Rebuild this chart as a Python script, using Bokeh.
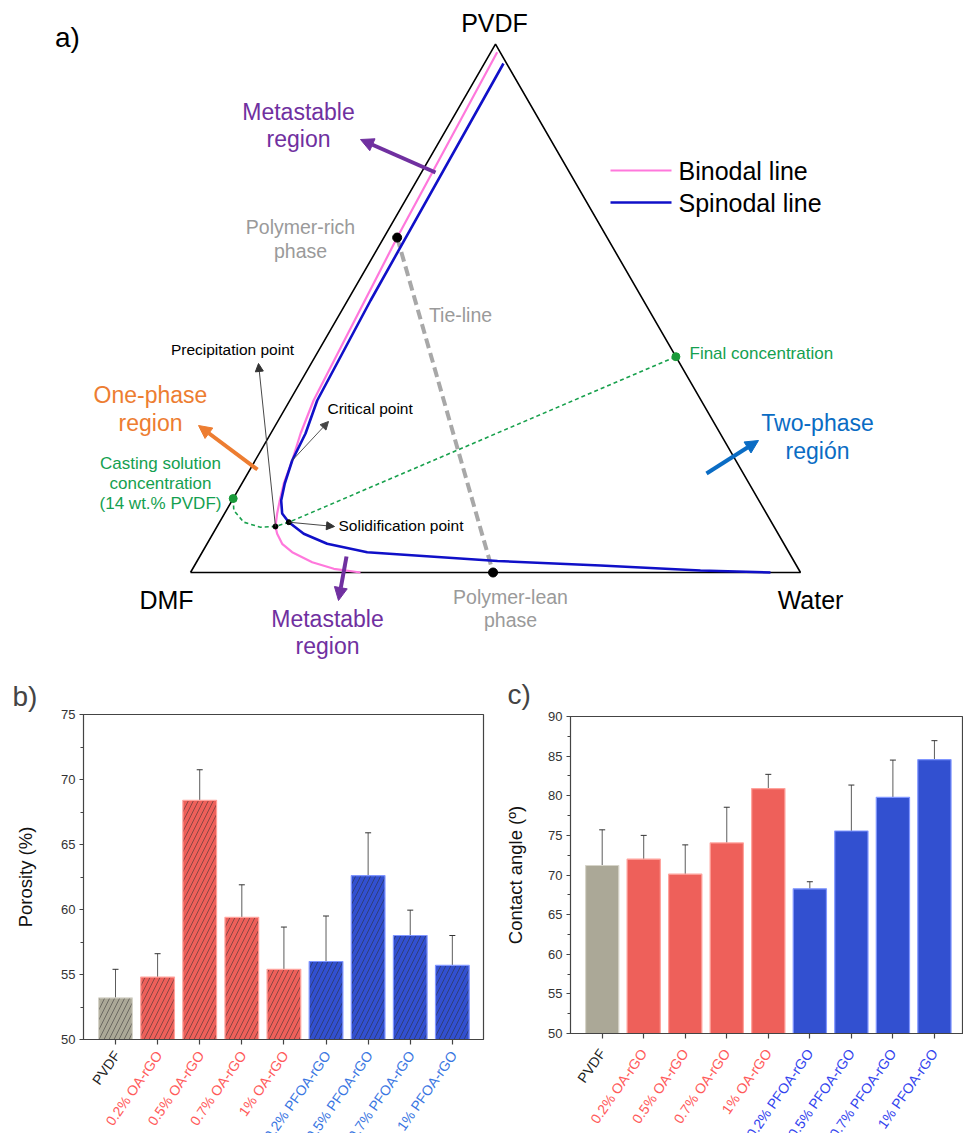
import numpy as np
from bokeh.plotting import figure
from bokeh.models import (ColumnDataSource, Range1d, Arrow, NormalHead, Whisker,
                          TeeHead, SingleIntervalTicker, FixedTicker)
from bokeh.layouts import column, row
from bokeh.embed import file_html
from bokeh.resources import INLINE
from bokeh.core.properties import value

FONT = "Liberation Sans"

# ---------------- Panel a: ternary compositions (water fraction, PVDF fraction) ----------------
binodal_water = [0.0103, 0.0218, 0.0389, 0.0489, 0.0607, 0.0687, 0.0782, 0.0862, 0.0957,
                 0.1054, 0.1231, 0.1475, 0.1898, 0.2315, 0.2787]
binodal_pvdf = [0.9849, 0.634, 0.3256, 0.2631, 0.2120, 0.1685, 0.1363, 0.1117, 0.0871,
                0.0733, 0.0543, 0.0384, 0.0195, 0.0070, 0.0]
spinodal_water = [0.0313, 0.0377, 0.0449, 0.0570, 0.0607, 0.0703, 0.0805, 0.0944, 0.1136,
                  0.1490, 0.1969, 0.2705, 0.3272, 0.4924, 0.6656, 0.8341, 0.9508]
spinodal_pvdf = [0.9635, 0.5149, 0.3256, 0.2631, 0.2120, 0.1685, 0.1363, 0.1117, 0.0952,
                 0.0733, 0.0543, 0.0384, 0.0341, 0.0218, 0.0133, 0.0038, 0.0]
path_water = [0.0, 0.0123, 0.0398, 0.0720, 0.0957, 0.1136]
path_pvdf = [0.14, 0.1174, 0.0952, 0.0857, 0.0871, 0.0952]
casting_point = [0.0, 0.14]
precipitation_point = [0.0957, 0.0871]
solidification_point = [0.1136, 0.0952]
critical_point = [0.0607, 0.2120]
final_point = [0.5915, 0.4085]
tie_rich = [0.0218, 0.634]
tie_lean = [0.496, 0.0]

# ---------------- Panels b, c ----------------
categories = ["PVDF", "0.2% OA-rGO", "0.5% OA-rGO", "0.7% OA-rGO", "1% OA-rGO",
              "0.2% PFOA-rGO", "0.5% PFOA-rGO", "0.7% PFOA-rGO", "1% PFOA-rGO"]
groups = ["PVDF", "OA", "OA", "OA", "OA", "PFOA", "PFOA", "PFOA", "PFOA"]
porosity = [53.2, 54.8, 68.4, 59.4, 55.4, 56.0, 62.6, 58.0, 55.7]
porosity_err = [2.2, 1.8, 2.35, 2.5, 3.25, 3.5, 3.3, 1.95, 2.3]
contact_angle = [71.2, 72.0, 70.1, 74.05, 80.9, 68.25, 75.55, 79.8, 84.55]
contact_angle_err = [4.5, 3.0, 3.7, 4.5, 1.8, 0.9, 5.8, 4.7, 2.4]

fill_colors = {"PVDF": "#aba897", "OA": "#ee605a", "PFOA": "#3250d0"}
edge_colors = {"PVDF": "#d6d4c9", "OA": "#ffa29c", "PFOA": "#8096ff"}
label_colors_b = {"PVDF": "#222222", "OA": "#ff5a5a", "PFOA": "#3a76e2"}
label_colors_c = {"PVDF": "#222222", "OA": "#ff5a5a", "PFOA": "#3344ee"}

# ---------------- Panel a figure ----------------
X0, Y0, SIDE = 190.0, 572.0, 610.0


def tern(w, a):
    w = np.atleast_1d(np.asarray(w, float))
    a = np.atleast_1d(np.asarray(a, float))
    return X0 + SIDE * (w + a / 2.0), Y0 - SIDE * np.sqrt(3) / 2.0 * a


pa = figure(width=963, height=660, x_range=Range1d(0, 963), y_range=Range1d(660, 0),
            x_axis_type=None, y_axis_type=None, toolbar_location=None,
            output_backend="svg", min_border=0, outline_line_color=None)
pa.xgrid.visible = False
pa.ygrid.visible = False


def txt(p, x, y, s, size, color, align="center"):
    p.text(x=[x], y=[y], text=[s], text_font=value(FONT), text_font_size=f"{size}px",
           text_color=color, text_align=align, text_baseline="middle")


tx, ty = tern([0, 1, 0, 0], [0, 0, 1, 0])
pa.line(tx, ty, line_color="black", line_width=1.6)

rx, ry = tern([tie_rich[0], tie_lean[0]], [tie_rich[1], tie_lean[1]])
pa.line(rx, ry, line_color="#a8a8a8", line_width=4, line_dash="10 5")

gx, gy = tern(path_water + [final_point[0]], path_pvdf + [final_point[1]])
pa.line(gx, gy, line_color="#17a04c", line_width=1.6, line_dash="4 3")

bx, by = tern(binodal_water, binodal_pvdf)
pa.line(bx, by, line_color="#ff78dc", line_width=2.2)
sx, sy = tern(spinodal_water, spinodal_pvdf)
pa.line(sx, sy, line_color="#1010c8", line_width=2.6)

px_, py_ = tern([tie_rich[0], tie_lean[0]], [tie_rich[1], tie_lean[1]])
pa.scatter(px_, py_, size=9, color="black")
px_, py_ = tern([precipitation_point[0], solidification_point[0]],
                [precipitation_point[1], solidification_point[1]])
pa.scatter(px_, py_, size=5, color="black")
px_, py_ = tern([casting_point[0], final_point[0]], [casting_point[1], final_point[1]])
pa.scatter(px_, py_, size=8, color="#1a9a3a")


def arrow(p, xs, ys, xe, ye, color, width, head):
    p.add_layout(Arrow(x_start=xs, y_start=ys, x_end=xe, y_end=ye, line_color=color,
                       line_width=width,
                       end=NormalHead(size=head, fill_color=color, line_color=color)))


ppx, ppy = tern(*precipitation_point)
arrow(pa, ppx[0], ppy[0], 258, 363, "#333333", 0.9, 8)
cpx, cpy = tern(*critical_point)
arrow(pa, cpx[0], cpy[0], 328, 421, "#444444", 0.9, 8)
spx, spy = tern(*solidification_point)
arrow(pa, spx[0], spy[0], 334, 526, "#333333", 0.9, 8)
arrow(pa, 435, 172, 360, 139, "#7030a0", 4, 13)
arrow(pa, 346, 556, 338, 600, "#7030a0", 4, 13)
arrow(pa, 257, 469, 198, 425, "#ed7d31", 4, 13)
arrow(pa, 706, 473, 758, 440, "#0a6cc4", 4, 13)

txt(pa, 67, 37, "a)", 28, "black")
txt(pa, 494, 22, "PVDF", 25, "black")
txt(pa, 166, 599, "DMF", 25, "black")
txt(pa, 810, 599, "Water", 25, "black")
txt(pa, 298, 111, "Metastable", 23, "#7030a0")
txt(pa, 298, 138, "region", 23, "#7030a0")
txt(pa, 327, 618, "Metastable", 23, "#7030a0")
txt(pa, 327, 645, "region", 23, "#7030a0")
txt(pa, 300, 226, "Polymer-rich", 19.5, "#9a9a9a")
txt(pa, 300, 250, "phase", 19.5, "#9a9a9a")
txt(pa, 460, 314, "Tie-line", 19.5, "#9a9a9a")
txt(pa, 510, 596, "Polymer-lean", 19.5, "#9a9a9a")
txt(pa, 510, 619, "phase", 19.5, "#9a9a9a")
txt(pa, 232, 349, "Precipitation point", 15.5, "black")
txt(pa, 327, 408, "Critical point", 15.5, "black", "left")
txt(pa, 338, 525, "Solidification point", 15.5, "black", "left")
txt(pa, 150, 394, "One-phase", 23, "#ed7d31")
txt(pa, 150, 422, "region", 23, "#ed7d31")
txt(pa, 160, 463, "Casting solution", 17, "#14a050")
txt(pa, 160, 483, "concentration", 17, "#14a050")
txt(pa, 160, 503, "(14 wt.% PVDF)", 17, "#14a050")
txt(pa, 689, 353, "Final concentration", 17, "#14a050", "left")
txt(pa, 817, 422, "Two-phase", 23, "#0a6cc4")
txt(pa, 817, 450, "región", 23, "#0a6cc4")

pa.line([610, 671], [170, 170], line_color="#ff78dc", line_width=2.2)
pa.line([610, 671], [202, 202], line_color="#1010c8", line_width=2.6)
txt(pa, 678, 170, "Binodal line", 25, "black", "left")
txt(pa, 678, 202, "Spinodal line", 25, "black", "left")


# ---------------- Bar panels ----------------
BOTTOM = 8


def bar_panel(width, mb_left, mb_right, mb_top, frame_h, xr, yr, vals, errs, ylabel,
              label_standoff, hatch, label_colors, lab_dy, lab_dx, letter, letter_offset,
              letter_standoff):
    xs = list(range(1, len(categories) + 1))
    src = ColumnDataSource(dict(
        x=xs, top=vals,
        upper=[v + e for v, e in zip(vals, errs)],
        lower=[v - e for v, e in zip(vals, errs)],
        fill=[fill_colors[g] for g in groups],
        edge=[edge_colors[g] for g in groups]))
    h_top = mb_top + frame_h + BOTTOM
    p = figure(width=width, height=h_top, x_range=Range1d(*xr), y_range=Range1d(*yr),
               toolbar_location=None, output_backend="svg",
               min_border_left=mb_left, min_border_right=mb_right,
               min_border_top=mb_top, min_border_bottom=BOTTOM)
    kw = dict(x="x", top="top", bottom=yr[0], width=0.8, fill_color="fill",
              line_color="edge", line_width=1.2, source=src)
    if hatch:
        kw.update(hatch_pattern="/", hatch_color="#2a2a2a", hatch_alpha=0.5,
                  hatch_scale=10, hatch_weight=1)
    p.vbar(**kw)
    p.add_layout(Whisker(source=src, base="x", upper="upper", lower="lower",
                         line_color="#333333", line_alpha=0.8, line_width=1,
                         upper_head=TeeHead(size=6, line_color="#333333", line_width=1),
                         lower_head=TeeHead(size=6, line_color="#333333", line_width=1)))
    p.xgrid.visible = False
    p.ygrid.visible = False
    p.outline_line_color = "#444444"
    p.outline_line_width = 1.2
    xa = p.xaxis[0]
    xa.ticker = FixedTicker(ticks=xs, minor_ticks=[])
    xa.major_label_overrides = {v: "" for v in xs}
    xa.major_label_text_font_size = "1px"
    xa.major_label_standoff = 0
    xa.major_tick_out = 5
    xa.major_tick_in = 0
    xa.axis_line_color = "#444444"
    xa.major_tick_line_color = "#444444"
    xa.major_tick_line_width = 1.2
    ya = p.yaxis[0]
    ya.ticker = SingleIntervalTicker(interval=5, num_minor_ticks=2)
    ya.major_tick_out = 4
    ya.major_tick_in = 0
    ya.minor_tick_out = 3
    ya.minor_tick_in = 0
    ya.axis_line_color = "#444444"
    ya.major_tick_line_color = "#444444"
    ya.minor_tick_line_color = "#444444"
    ya.major_label_text_font = FONT
    ya.major_label_text_font_size = "13px"
    ya.major_label_text_color = "#333333"
    ya.major_label_standoff = 4
    ya.axis_label = ylabel
    ya.axis_label_text_font = FONT
    ya.axis_label_text_font_size = "18.5px"
    ya.axis_label_text_font_style = "normal"
    ya.axis_label_text_color = "#111111"
    ya.axis_label_standoff = label_standoff
    p.title.text = letter
    p.title.text_font = FONT
    p.title.text_font_size = "28px"
    p.title.text_font_style = "normal"
    p.title.align = "left"
    p.title.offset = letter_offset
    p.title.standoff = letter_standoff

    # coloured category labels below the axis
    h_lab = 473 - h_top
    q = figure(width=width, height=h_lab, x_range=p.x_range, y_range=Range1d(-h_lab, 0),
               x_axis_type=None, y_axis_type=None, toolbar_location=None,
               output_backend="svg", min_border_left=mb_left, min_border_right=mb_right,
               min_border_top=0, min_border_bottom=0, outline_line_color=None)
    q.xgrid.visible = False
    q.ygrid.visible = False
    q.text(x=[v + lab_dx for v in xs], y=[-(lab_dy - BOTTOM)] * len(xs), text=categories,
           angle=np.deg2rad(55), text_align="right", text_baseline="middle",
           text_font=value(FONT), text_font_size="14px",
           text_color=[label_colors[g] for g in groups])
    return column(p, q)


pb = bar_panel(486, 83, 3, 54, 325, (0.24, 9.74), (50, 75), porosity, porosity_err,
               "Porosity (%)", 22, True, label_colors_b, 13, 0.03, "b)", -71, 5)
pc = bar_panel(477, 84, 0, 56, 317, (0.237, 9.70), (50, 90), contact_angle,
               contact_angle_err, "Contact angle (º)", 19, False, label_colors_c, 17, 0.0,
               "c)", -63, 14)

layout = column(pa, row(pb, pc))
open("out.html", "w").write(file_html(layout, INLINE))
